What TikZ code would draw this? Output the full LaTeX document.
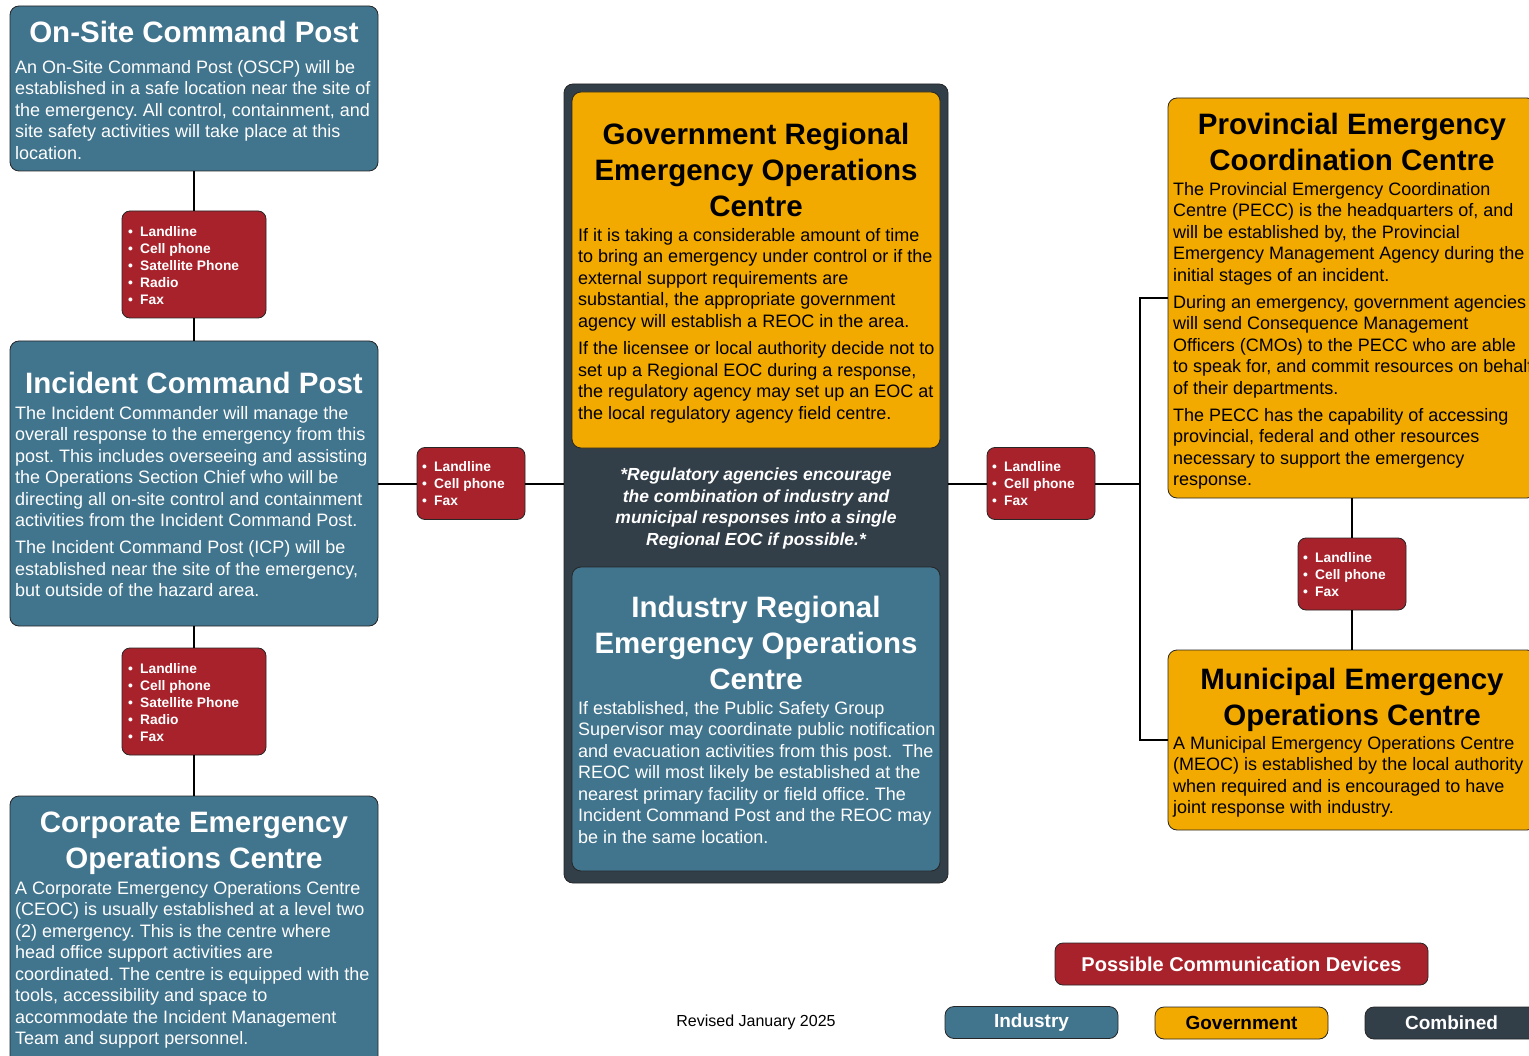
\documentclass[tikz,border=0pt]{standalone}
\usepackage{fontspec}
\setmainfont{Liberation Sans}
\usetikzlibrary{positioning}
\definecolor{colInd}{RGB}{65,116,141}
\definecolor{colGov}{RGB}{242,169,0}
\definecolor{colDev}{RGB}{168,34,43}
\definecolor{colComb}{RGB}{50,62,72}
\newcommand{\devitem}{\makebox[12pt][l]{\textbullet}}
\frenchspacing

\begin{document}
\begin{tikzpicture}[
  x=1pt, y=-1pt,
  box/.style={rectangle, rounded corners=9pt, draw=black!85, line width=0.8pt,
              outer sep=0pt, inner sep=0pt},
  indbox/.style={box, fill=colInd},
  govbox/.style={box, fill=colGov},
  combbox/.style={box, fill=colComb},
  devbox/.style={box, fill=colDev, rounded corners=8pt},
  ttl/.style={inner sep=0pt, align=center, font=\fontsize{29.5}{36}\selectfont\bfseries},
  txt/.style={inner sep=0pt, align=left, font=\fontsize{18}{21.5}\selectfont},
  devtxt/.style={inner sep=0pt, align=left, text=white,
                 font=\fontsize{13.8}{17}\selectfont\bfseries},
  keybox/.style={minimum width=173pt, minimum height=32pt,
                 font=\fontsize{19}{22}\selectfont\bfseries},
  link/.style={line width=2pt, black},
]
\useasboundingbox (0,0) rectangle (1529,1056);

% left column
\node[indbox, minimum width=368pt, minimum height=165pt] (oscp) at (194,88.5) {};
\node[ttl, text=white, below=15pt of oscp.north] (oscpT) {On-Site Command Post};
\node[txt, text=white, below right=54pt and 5pt of oscp.north west] (oscpB)
  {An On-Site Command Post (OSCP) will be\\
   established in a safe location near the site of\\
   the emergency. All control, containment, and\\
   site safety activities will take place at this\\
   location.};

\node[devbox, minimum width=144pt, minimum height=107pt] (dev1) at (194,264.5) {};
\node[devtxt, below right=15pt and 6pt of dev1.north west] (dev1T)
  {\devitem Landline\\ \devitem Cell phone\\ \devitem Satellite Phone\\
   \devitem Radio\\ \devitem Fax};

\node[indbox, minimum width=368pt, minimum height=285pt] (icp) at (194,483.5) {};
\node[ttl, text=white, below=31pt of icp.north] (icpT) {Incident Command Post};
\node[txt, text=white, below right=65pt and 5pt of icp.north west] (icpB)
  {The Incident Commander will manage the\\
   overall response to the emergency from this\\
   post. This includes overseeing and assisting\\
   the Operations Section Chief who will be\\
   directing all on-site control and containment\\
   activities from the Incident Command Post.\\[5.5pt]
   The Incident Command Post (ICP) will be\\
   established near the site of the emergency,\\
   but outside of the hazard area.};

\node[devbox, minimum width=144pt, minimum height=107pt] (dev2) at (194,701.5) {};
\node[devtxt, below right=15pt and 6pt of dev2.north west] (dev2T)
  {\devitem Landline\\ \devitem Cell phone\\ \devitem Satellite Phone\\
   \devitem Radio\\ \devitem Fax};

\node[indbox, minimum width=368pt, minimum height=280pt] (ceoc) at (194,936) {};
\node[ttl, text=white, below=16pt of ceoc.north] (ceocT) {Corporate Emergency\\Operations Centre};
\node[txt, text=white, below right=85pt and 5pt of ceoc.north west] (ceocB)
  {A Corporate Emergency Operations Centre\\
   (CEOC) is usually established at a level two\\
   (2) emergency. This is the centre where\\
   head office support activities are\\
   coordinated. The centre is equipped with the\\
   tools, accessibility and space to\\
   accommodate the Incident Management\\
   Team and support personnel.};

% middle column
\node[devbox, minimum width=108pt, minimum height=72pt] (devL) at (471,483.5) {};
\node[devtxt, below right=14pt and 5pt of devL.north west] (devLT)
  {\devitem Landline\\ \devitem Cell phone\\ \devitem Fax};

\node[combbox, minimum width=384pt, minimum height=799pt] (comb) at (756,483.5) {};

\node[govbox, minimum width=368pt, minimum height=356pt] (gov) at (756,270) {};
\node[ttl, below=31pt of gov.north] (govT) {Government Regional\\Emergency Operations\\Centre};
\node[txt, below right=136pt and 6pt of gov.north west] (govB)
  {If it is taking a considerable amount of time\\
   to bring an emergency under control or if the\\
   external support requirements are\\
   substantial, the appropriate government\\
   agency will establish a REOC in the area.\\[6pt]
   If the licensee or local authority decide not to\\
   set up a Regional EOC during a response,\\
   the regulatory agency may set up an EOC at\\
   the local regulatory agency field centre.};

\node[inner sep=0pt, align=center, text=white,
      font=\fontsize{17.5}{21.5}\selectfont\bfseries\itshape,
      below=20pt of gov.south] (combT)
  {*Regulatory agencies encourage\\
   the combination of industry and\\
   municipal responses into a single\\
   Regional EOC if possible.*};

\node[indbox, minimum width=368pt, minimum height=304pt] (ind) at (756,719) {};
\node[ttl, text=white, below=29pt of ind.north] (indT) {Industry Regional\\Emergency Operations\\Centre};
\node[txt, text=white, below right=134pt and 6pt of ind.north west] (indB)
  {If established, the Public Safety Group\\
   Supervisor may coordinate public notification\\
   and evacuation activities from this post.\ \ The\\
   REOC will most likely be established at the\\
   nearest primary facility or field office. The\\
   Incident Command Post and the REOC may\\
   be in the same location.};

% right column
\node[devbox, minimum width=108pt, minimum height=72pt] (devR) at (1041,483.5) {};
\node[devtxt, below right=14pt and 5pt of devR.north west] (devRT)
  {\devitem Landline\\ \devitem Cell phone\\ \devitem Fax};
\coordinate (jn) at (1140,483.5);

\node[govbox, minimum width=368pt, minimum height=400pt] (pecc) at (1352,298) {};
\node[ttl, below=15pt of pecc.north] (peccT) {Provincial Emergency\\Coordination Centre};
\node[txt, below right=84pt and 5pt of pecc.north west] (peccB)
  {The Provincial Emergency Coordination\\
   Centre (PECC) is the headquarters of, and\\
   will be established by, the Provincial\\
   Emergency Management Agency during the\\
   initial stages of an incident.\\[5.5pt]
   During an emergency, government agencies\\
   will send Consequence Management\\
   Officers (CMOs) to the PECC who are able\\
   to speak for, and commit resources on behalf\\
   of their departments.\\[5.5pt]
   The PECC has the capability of accessing\\
   provincial, federal and other resources\\
   necessary to support the emergency\\
   response.};

\node[devbox, minimum width=108pt, minimum height=72pt] (devRL) at (1352,574) {};
\node[devtxt, below right=14pt and 5pt of devRL.north west] (devRLT)
  {\devitem Landline\\ \devitem Cell phone\\ \devitem Fax};

\node[govbox, minimum width=368pt, minimum height=180pt] (meoc) at (1352,740) {};
\node[ttl, below=18pt of meoc.north] (meocT) {Municipal Emergency\\Operations Centre};
\node[txt, below right=86pt and 5pt of meoc.north west] (meocB)
  {A Municipal Emergency Operations Centre\\
   (MEOC) is established by the local authority\\
   when required and is encouraged to have\\
   joint response with industry.};

% legend
\node[devbox, text=white, minimum width=373pt, minimum height=42pt,
      font=\fontsize{20}{23}\selectfont\bfseries] (keyDev) at (1241.5,964) {Possible Communication Devices};
\node[indbox, keybox, text=white] (keyInd) at (1031.5,1022.5) {Industry};
\node[govbox, keybox] (keyGov) at (1241.5,1023) {Government};
\node[combbox, keybox, text=white] (keyComb) at (1451.5,1023) {Combined};
\node[font=\fontsize{16}{19}\selectfont] (rev) at (756,1022) {Revised January 2025};

% links
\draw[link] (oscp.south) -- (dev1.north);
\draw[link] (dev1.south) -- (icp.north);
\draw[link] (icp.south) -- (dev2.north);
\draw[link] (dev2.south) -- (ceoc.north);
\draw[link] (icp.east) -- (devL.west);
\draw[link] (devL.east) -- (comb.west);
\draw[link] (comb.east) -- (devR.west);
\draw[link] (devR.east) -- (jn);
\draw[link] (pecc.west) -| (jn) |- (meoc.west);
\draw[link] (pecc.south) -- (devRL.north);
\draw[link] (devRL.south) -- (meoc.north);

\end{tikzpicture}
\end{document}
